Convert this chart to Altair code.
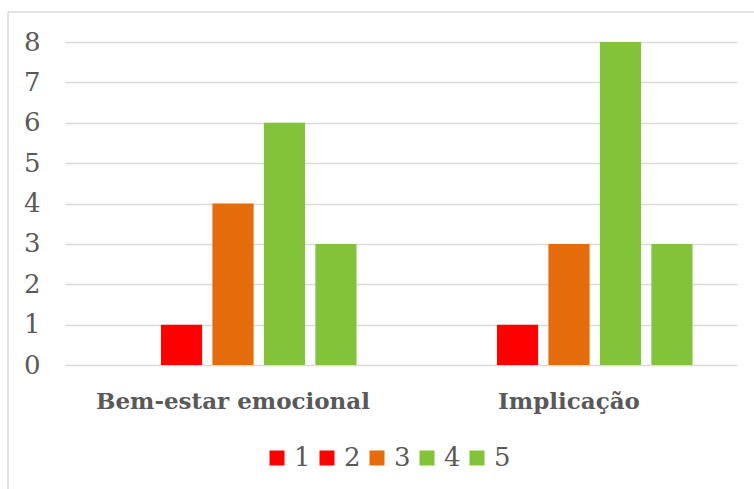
import altair as alt
import pandas as pd

# Categories, series and values
groups = ["Bem-estar emocional", "Implicação"]
series = ["1", "2", "3", "4", "5"]
bem_estar = [0, 1, 4, 6, 3]
implicacao = [0, 1, 3, 8, 3]
y_ticks = [0, 1, 2, 3, 4, 5, 6, 7, 8]
colors = ["#FF0000", "#FF0000", "#E46C0A", "#82C33A", "#82C33A"]

rows = []
for g, vals in zip(groups, [bem_estar, implicacao]):
    for s, v in zip(series, vals):
        rows.append({"grupo": g, "serie": s, "valor": v})
df = pd.DataFrame(rows)

TEXT = "#595959"
GRID = "#D9D9D9"
FONT = "DejaVu Serif"

bars = alt.Chart(df).mark_bar().encode(
    x=alt.X(
        "grupo:N",
        sort=groups,
        scale=alt.Scale(paddingInner=0.234, paddingOuter=0.117),
        axis=alt.Axis(
            title=None, labelAngle=0, labelFontWeight="bold",
            labelFontSize=23, labelColor=TEXT, domain=False, ticks=False,
            labelPadding=25, labelBaseline="top", labelLimit=0,
        ),
    ),
    xOffset=alt.XOffset(
        "serie:N", sort=series,
        scale=alt.Scale(paddingInner=0.2, paddingOuter=0.1),
    ),
    y=alt.Y(
        "valor:Q",
        scale=alt.Scale(domain=[0, 8], nice=False),
        axis=alt.Axis(
            title=None, values=y_ticks, format="d", grid=True, gridColor=GRID,
            gridWidth=1.4, domain=False, ticks=False,
            labelFontSize=26, labelColor=TEXT, labelPadding=25,
        ),
    ),
    color=alt.Color(
        "serie:N",
        sort=series,
        scale=alt.Scale(domain=series, range=colors),
        legend=alt.Legend(
            title=None, orient="none", direction="horizontal",
            legendX=199, legendY=403, symbolType="square", symbolSize=225,
            symbolStrokeWidth=0, labelFontSize=26,
            labelColor=TEXT, labelOffset=4, columnPadding=3,
        ),
    ),
)

# Outer chart frame (top and left edges)
frame_src = alt.Data(values=[{"k": 0}])
frame_top = alt.Chart(frame_src).mark_rule(color=GRID, strokeWidth=1.5).encode(
    x=alt.value(-57), x2=alt.value(720), y=alt.value(-30)
)
frame_left = alt.Chart(frame_src).mark_rule(color=GRID, strokeWidth=1.5).encode(
    x=alt.value(-57), y=alt.value(-30), y2=alt.value(460)
)

chart = alt.layer(bars, frame_top, frame_left).properties(
    width=672,
    height=323,
    autosize=alt.AutoSizeParams(type="none"),
    padding={"left": 65, "top": 42, "right": 17, "bottom": 124},
    background="white",
).configure(font=FONT).configure_view(stroke=None)

chart.save("out.html", embed_options={"renderer": "svg", "actions": False})
